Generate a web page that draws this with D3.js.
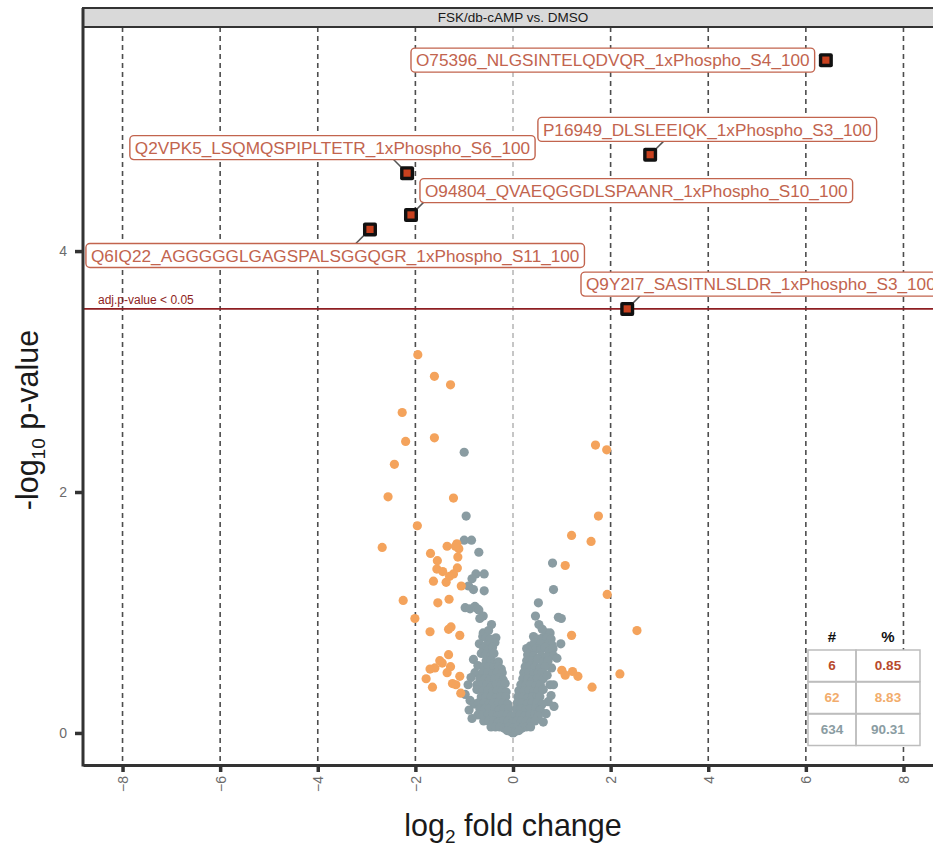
<!DOCTYPE html>
<html>
<head>
<meta charset="utf-8">
<script src="https://cdn.jsdelivr.net/npm/d3@7"></script>
<style>
  body { margin: 0; background: #fff; }
  svg { display: block; font-family: "Liberation Sans", Arial, sans-serif; }
</style>
</head>
<body>
<svg id="chart" width="933" height="848"></svg>
<script>
// ---- data -------------------------------------------------------------
const panelTitle = "FSK/db-cAMP vs. DMSO";
const xTicks = [-8, -6, -4, -2, 0, 2, 4, 6, 8];
const yTicks = [0, 2, 4];
const thresholdNegLogP = 3.52;
const thresholdText = "adj.p-value < 0.05";

// significant phosphosites (log2 fold change, -log10 p)
const sigIds = [
  "O75396_NLGSINTELQDVQR_1xPhospho_S4_100",
  "P16949_DLSLEEIQK_1xPhospho_S3_100",
  "Q2VPK5_LSQMQSPIPLTETR_1xPhospho_S6_100",
  "O94804_QVAEQGGDLSPAANR_1xPhospho_S10_100",
  "Q6IQ22_AGGGGGLGAGSPALSGGQGR_1xPhospho_S11_100",
  "Q9Y2I7_SASITNLSLDR_1xPhospho_S3_100"
];
const sigLog2FC = [6.41, 2.81, -2.17, -2.09, -2.93, 2.34];
const sigNegLogP = [5.585, 4.80, 4.647, 4.30, 4.18, 3.52];

// nominally significant (p < 0.05, not adjusted)
const nominalPoints = [
  [-1.95,3.14],[-1.61,2.96],[-1.28,2.89],[-2.27,2.66],[-2.20,2.42],[-1.61,2.45],
  [-2.43,2.23],[-2.56,1.96],[-1.22,1.95],[-1.96,1.72],[-2.68,1.54],[-1.35,1.55],
  [-1.15,1.57],[-1.11,1.53],[-1.69,1.49],[-1.55,1.43],[-1.13,1.46],[-1.56,1.36],
  [-1.44,1.34],[-1.14,1.37],[-1.22,1.32],[-1.63,1.26],[-1.37,1.25],[-1.06,1.22],
  [-2.25,1.10],[-1.54,1.08],[-1.31,1.11],[-2.01,0.95],[-1.70,0.84],[-1.32,0.86],
  [-1.27,0.88],[-1.09,0.81],[-1.32,0.65],[-1.50,0.60],[-1.60,0.54],[-1.70,0.53],
  [-1.28,0.55],[-1.35,0.50],[-1.78,0.45],[-1.09,0.47],[-1.24,0.41],[-1.17,0.40],
  [-1.65,0.38],[-1.07,0.33],[-1.18,1.55],[-1.45,0.58],[-1.30,1.30],
  [1.69,2.39],[1.92,2.35],[1.75,1.80],[1.20,1.64],[1.60,1.59],[1.07,1.39],
  [1.93,1.15],[2.54,0.85],[1.20,0.81],[2.19,0.49],[1.62,0.38],[1.00,0.52],
  [1.07,0.48],[1.22,0.51],[1.33,0.47]
];

// not significant
const nsPoints = [
  [-1.00,2.33],[-0.96,1.80],[-1.00,1.60],[-0.85,1.60],[-0.70,1.50],[-0.76,1.32],
  [-0.59,1.32],[-0.84,1.28],[-0.91,1.22],[-0.81,1.19],[-0.59,1.18],[-0.98,1.04],
  [-0.88,1.03],[-0.78,1.05],[-0.73,1.03],[-0.70,1.02],[-0.61,0.97],[-0.44,0.90],
  [-0.68,0.95],
  [0.81,1.41],[0.83,1.19],[0.52,1.08],[0.46,0.97],[0.93,0.96],[0.99,0.95],[0.53,0.90],
  [-0.61,0.83],[-0.50,0.85],[0.69,0.83],[0.76,0.83],[0.60,0.86],
  [-0.62,0.80],[-0.55,0.79],[-0.35,0.79],[-0.47,0.78],[0.42,0.80],[0.50,0.78],
  [0.61,0.79],[0.70,0.79],[0.78,0.78],
  [-0.69,0.74],[-0.57,0.72],[-0.47,0.74],[-0.37,0.75],[0.35,0.72],[0.44,0.75],
  [0.72,0.74],[0.80,0.73],[0.98,0.74],[0.56,0.74],
  [-0.60,0.70],[-0.50,0.69],[-0.42,0.71],[0.28,0.70],[0.38,0.68],[0.48,0.70],
  [0.57,0.69],[0.66,0.71],[0.74,0.68],[0.82,0.70],
  [-0.65,0.66],[-0.55,0.65],[-0.45,0.64],[-0.39,0.66],[0.30,0.65],[0.42,0.64],
  [0.58,0.64],[0.68,0.63],[0.83,0.64],[0.90,0.62],
  [-0.81,0.61],[-0.55,0.60],[-0.45,0.60],[-0.38,0.58],[-0.30,0.59],[0.28,0.60],
  [0.40,0.60],[0.50,0.61],[0.62,0.59],[0.72,0.60],
  [-0.72,0.56],[-0.60,0.55],[-0.50,0.55],[-0.40,0.54],[-0.30,0.55],[-0.24,0.53],
  [0.25,0.55],[0.35,0.56],[0.45,0.55],[0.55,0.54],[0.79,0.54],[0.65,0.55],
  [-0.78,0.50],[-0.62,0.50],[-0.52,0.50],[-0.42,0.49],[-0.32,0.50],[-0.22,0.50],
  [0.22,0.50],[0.32,0.50],[0.42,0.49],[0.52,0.50],[0.59,0.50],
  [-0.68,0.45],[-0.58,0.45],[-0.48,0.44],[-0.38,0.45],[-0.28,0.46],[-0.20,0.44],
  [0.20,0.45],[0.30,0.45],[0.40,0.44],[0.50,0.45],[0.62,0.45],
  [-0.74,0.40],[-0.64,0.40],[-0.54,0.40],[-0.44,0.39],[-0.34,0.40],[-0.24,0.40],
  [-0.16,0.41],[0.16,0.40],[0.26,0.40],[0.36,0.40],[0.46,0.39],[0.56,0.40],
  [0.76,0.40],[0.83,0.40],
  [-0.98,0.32],[-0.74,0.36],[-0.62,0.35],[-0.52,0.35],[-0.42,0.34],[-0.32,0.35],
  [-0.22,0.35],[-0.14,0.34],[0.12,0.35],[0.22,0.35],[0.32,0.35],[0.42,0.34],
  [0.52,0.35],[0.62,0.36],
  [-0.88,0.27],[-0.65,0.30],[-0.55,0.30],[-0.45,0.30],[-0.35,0.29],[-0.25,0.30],
  [-0.15,0.30],[0.10,0.30],[0.20,0.30],[0.30,0.29],[0.40,0.30],[0.50,0.30],
  [0.55,0.30],[0.72,0.26],
  [-0.80,0.24],[-0.71,0.25],[-0.60,0.25],[-0.50,0.24],[-0.40,0.25],[-0.30,0.25],
  [-0.20,0.25],[-0.11,0.24],[0.09,0.25],[0.19,0.25],[0.29,0.24],[0.39,0.25],
  [0.49,0.25],[0.60,0.24],
  [-0.90,0.19],[-0.68,0.20],[-0.58,0.20],[-0.48,0.20],[-0.38,0.20],[-0.28,0.19],
  [-0.18,0.20],[-0.09,0.20],[0.07,0.20],[0.16,0.20],[0.26,0.19],[0.36,0.20],
  [0.46,0.20],[0.56,0.19],
  [-0.72,0.15],[-0.62,0.15],[-0.52,0.15],[-0.42,0.15],[-0.32,0.14],[-0.22,0.15],
  [-0.12,0.15],[-0.04,0.14],[0.05,0.15],[0.14,0.15],[0.24,0.14],[0.34,0.15],
  [0.44,0.15],[0.52,0.14],
  [-0.60,0.10],[-0.50,0.10],[-0.40,0.10],[-0.30,0.09],[-0.20,0.10],[-0.10,0.10],
  [0.00,0.09],[0.08,0.10],[0.17,0.10],[0.27,0.10],[0.37,0.09],[0.45,0.10],
  [-0.45,0.05],[-0.36,0.05],[-0.27,0.05],[-0.18,0.04],[-0.09,0.05],[0.00,0.04],
  [0.09,0.05],[0.18,0.04],[0.27,0.05],[0.36,0.05],
  [-0.04,0.01],[0.04,0.01],[0.00,0.00],[-0.12,0.02],[0.12,0.02],
  [-0.92,0.40],[-0.86,0.46],[-0.84,0.12],[0.78,0.31],[0.84,0.22],[0.68,0.16],
  [0.62,0.09],[0.70,0.48]
];

// summary table
const tableHeader = ["#", "%"];
const tableCounts = [6, 62, 634];
const tablePercents = ["0.85", "8.83", "90.31"];

// label boxes: left edge (log2 FC) and vertical centre (-log10 p), in data units
const labelLeft = [-2.09, 0.51, -7.85, -1.906, -8.75, 1.393];
const labelMid  = [5.585, 5.01, 4.859, 4.502, 3.963, 3.726];

(function draw() {
  const colSig = "#c8411f", colNominal = "#f4a35c", colNs = "#8a9ca2";
  const colLabel = "#c2644e", colThreshold = "#8e1e22";
  const tableColors = ["#b84a2c", "#f2ac6c", "#8a9ca2"];
  const dotR = 4.6;

  const svg = d3.select("#chart");
  const pLeft = 83, pRight = 943, pTop = 27, pBottom = 765;

  const x = d3.scaleLinear().domain([-8.81, 8.81]).range([pLeft, pRight]);
  const y = d3.scaleLinear().domain([-0.266, 5.86]).range([pBottom, pTop]);

  // vertical dashed guides
  svg.append("g").selectAll("line").data(xTicks).join("line")
    .attr("x1", d => x(d)).attr("x2", d => x(d))
    .attr("y1", pTop).attr("y2", pBottom)
    .attr("stroke", d => d === 0 ? "#b8b8b8" : "#4d4d4d")
    .attr("stroke-width", 1.6)
    .attr("stroke-dasharray", "5,4");

  // threshold line
  svg.append("line")
    .attr("x1", pLeft).attr("x2", pRight)
    .attr("y1", y(thresholdNegLogP)).attr("y2", y(thresholdNegLogP))
    .attr("stroke", colThreshold).attr("stroke-width", 1.6);
  svg.append("text")
    .attr("x", pLeft + 15).attr("y", y(thresholdNegLogP) - 5)
    .attr("font-size", 12).attr("fill", colThreshold)
    .text(thresholdText);

  // points
  svg.append("g").selectAll("circle").data(nsPoints).join("circle")
    .attr("cx", d => x(d[0])).attr("cy", d => y(d[1])).attr("r", dotR)
    .attr("fill", colNs);
  svg.append("g").selectAll("circle").data(nominalPoints).join("circle")
    .attr("cx", d => x(d[0])).attr("cy", d => y(d[1])).attr("r", dotR)
    .attr("fill", colNominal);

  // labels with connector segments
  const sig = sigIds.map((id, i) => ({ id, fc: sigLog2FC[i], p: sigNegLogP[i], lx: labelLeft[i], ly: labelMid[i] }));
  const labelG = svg.append("g");
  const segG = labelG.append("g");
  const boxG = labelG.append("g");
  const boxH = 24, padX = 5;
  sig.forEach(d => {
    const g = boxG.append("g");
    const rect = g.append("rect");
    const t = g.append("text")
      .attr("x", x(d.lx) + padX).attr("y", y(d.ly))
      .attr("dy", "0.36em")
      .attr("font-size", 17.2).attr("fill", colLabel)
      .text(d.id);
    const w = t.node().getComputedTextLength() + 2 * padX;
    const bx0 = x(d.lx), bx1 = bx0 + w, by0 = y(d.ly) - boxH / 2, by1 = by0 + boxH;
    rect.attr("x", bx0).attr("y", by0).attr("width", w).attr("height", boxH)
      .attr("rx", 4).attr("fill", "#fff").attr("stroke", colLabel).attr("stroke-width", 1.4);

    // connector: from the point diagonally toward the box until it meets the border
    const px = x(d.fc), py = y(d.p);
    const cx = (bx0 + bx1) / 2, cy = (by0 + by1) / 2;
    const dx = Math.abs(cx - px) > 5 ? Math.sign(cx - px) : 0;
    const dy = (py >= by0 && py <= by1) ? 0 : Math.sign(cy - py);
    let tx = 0, ty = 0;
    if (dx > 0) tx = Math.max(0, bx0 - px); else if (dx < 0) tx = Math.max(0, px - bx1);
    if (dy > 0) ty = Math.max(0, by0 - py); else if (dy < 0) ty = Math.max(0, py - by1);
    const t0 = Math.max(dx ? tx : 0, dy ? ty : 0);
    const ex = px + dx * t0, ey = py + dy * t0;
    if (Math.hypot(ex - px, ey - py) > 14) {
      segG.append("line").attr("x1", px).attr("y1", py).attr("x2", ex).attr("y2", ey)
        .attr("stroke", "#555").attr("stroke-width", 1.5);
    }
  });

  // significant markers
  const mk = svg.append("g").selectAll("g").data(sig).join("g")
    .attr("transform", d => `translate(${x(d.fc)},${y(d.p)})`);
  mk.append("rect").attr("x", -7).attr("y", -7).attr("width", 14).attr("height", 14)
    .attr("rx", 2).attr("fill", "#111");
  mk.append("rect").attr("x", -3.6).attr("y", -3.6).attr("width", 7.2).attr("height", 7.2)
    .attr("fill", colSig);

  // summary table
  const tL = 808, tM = 856, tR = 920, rowTops = [650, 682, 714], rowH = 31.5;
  const tbl = svg.append("g");
  tbl.append("rect").attr("x", tL).attr("y", rowTops[0]).attr("width", tR - tL)
    .attr("height", rowTops.length * rowH).attr("fill", "#fff");
  tbl.selectAll("text.h").data(tableHeader).join("text").attr("class", "h")
    .attr("x", (d, i) => i === 0 ? (tL + tM) / 2 : (tM + tR) / 2)
    .attr("y", 637).attr("dy", "0.35em").attr("text-anchor", "middle")
    .attr("font-size", 15).attr("font-weight", "bold").attr("fill", "#111")
    .text(d => d);
  tableCounts.forEach((c, i) => {
    const ty = rowTops[i];
    tbl.append("rect").attr("x", tL).attr("y", ty).attr("width", tM - tL).attr("height", rowH)
      .attr("fill", "none").attr("stroke", "#bdbdbd").attr("stroke-width", 1.5);
    tbl.append("rect").attr("x", tM).attr("y", ty).attr("width", tR - tM).attr("height", rowH)
      .attr("fill", "none").attr("stroke", "#bdbdbd").attr("stroke-width", 1.5);
    tbl.append("text").attr("x", (tL + tM) / 2).attr("y", ty + rowH / 2).attr("dy", "0.35em")
      .attr("text-anchor", "middle").attr("font-size", 13.5).attr("font-weight", "bold")
      .attr("fill", tableColors[i]).text(c);
    tbl.append("text").attr("x", (tM + tR) / 2).attr("y", ty + rowH / 2).attr("dy", "0.35em")
      .attr("text-anchor", "middle").attr("font-size", 13.5).attr("font-weight", "bold")
      .attr("fill", tableColors[i]).text(tablePercents[i]);
  });

  // facet strip
  svg.append("rect").attr("x", pLeft).attr("y", 8).attr("width", pRight - pLeft + 10).attr("height", 19)
    .attr("fill", "#d9d9d9").attr("stroke", "#333").attr("stroke-width", 2);
  svg.append("text").attr("x", x(0)).attr("y", 17.5).attr("dy", "0.36em")
    .attr("text-anchor", "middle").attr("font-size", 13.5).attr("fill", "#1a1a1a")
    .text(panelTitle);

  // axes
  const xAxis = svg.append("g").attr("transform", `translate(0,${pBottom})`)
    .call(d3.axisBottom(x).tickValues(xTicks).tickSize(7).tickSizeOuter(0));
  xAxis.select(".domain").attr("stroke", "#333").attr("stroke-width", 3);
  xAxis.selectAll(".tick line").attr("stroke", "#333").attr("stroke-width", 3.5);
  xAxis.selectAll(".tick text")
    .attr("transform", "rotate(-90)")
    .attr("x", -11).attr("y", 0).attr("dy", "0.35em")
    .attr("text-anchor", "end")
    .attr("font-size", 14).attr("fill", "#6b6b6b")
    .style("font-family", "Liberation Sans, Arial, sans-serif");

  const yAxis = svg.append("g").attr("transform", `translate(${pLeft},0)`)
    .call(d3.axisLeft(y).tickValues(yTicks).tickFormat(d3.format("d"))
      .tickSize(8).tickPadding(8).tickSizeOuter(0));
  yAxis.select(".domain").attr("stroke", "#333").attr("stroke-width", 3)
    .attr("d", `M0,8V${pBottom + 1.5}`);
  yAxis.selectAll(".tick line").attr("stroke", "#333").attr("stroke-width", 3.5);
  yAxis.selectAll(".tick text").attr("font-size", 14).attr("fill", "#6b6b6b")
    .style("font-family", "Liberation Sans, Arial, sans-serif");

  // axis titles
  const xt = svg.append("text").attr("x", x(0)).attr("y", 836).attr("text-anchor", "middle")
    .attr("font-size", 30.5).attr("fill", "#1a1a1a");
  xt.append("tspan").text("log");
  xt.append("tspan").attr("font-size", 19).attr("dy", 7).text("2");
  xt.append("tspan").attr("dy", -7).text(" fold change");

  const yt = svg.append("text").attr("transform", "translate(38,420) rotate(-90)")
    .attr("text-anchor", "middle").attr("font-size", 30.5).attr("fill", "#1a1a1a");
  yt.append("tspan").text("-log");
  yt.append("tspan").attr("font-size", 19).attr("dy", 7).text("10");
  yt.append("tspan").attr("dy", -7).text(" p-value");
})();
</script>
</body>
</html>
